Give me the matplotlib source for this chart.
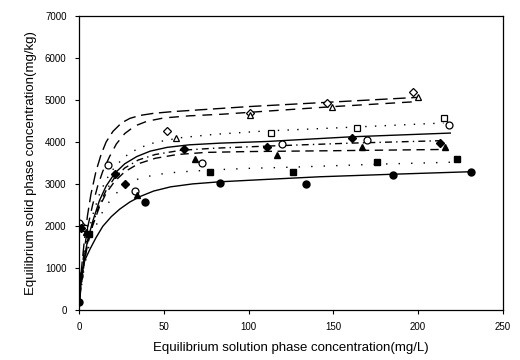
import numpy as np
import matplotlib
matplotlib.use("Agg")
import matplotlib.pyplot as plt

plt.rcParams['font.family'] = ['Liberation Sans', 'DejaVu Sans']

# measured points (x = mg/L, y = mg/kg)
od_x = [2, 51.7, 101, 146, 197]
od_y = [2000, 4270, 4690, 4930, 5190]
ot_x = [1, 57, 101, 149, 200]
ot_y = [1980, 4090, 4650, 4830, 5070]
os_x = [3, 113, 164, 215]
os_y = [1950, 4210, 4330, 4570]
oc_x = [0, 17, 33, 72.5, 120, 170, 218]
oc_y = [2070, 3450, 2820, 3500, 3950, 4050, 4400]
fd_x = [1, 21, 27, 62, 111, 161, 213]
fd_y = [1950, 3240, 2990, 3830, 3890, 4090, 3970]
ft_x = [4, 34, 68.5, 117, 167, 216]
ft_y = [1850, 2740, 3590, 3690, 3880, 3890]
fs_x = [6, 77, 126, 176, 223]
fs_y = [1800, 3290, 3290, 3520, 3590]
fc_x = [0, 0, 39, 83, 134, 185, 231]
fc_y = [190, 800, 2570, 3020, 3000, 3210, 3290]

# fitted curves
cd_x = [0, 1, 3, 5, 7, 10, 13, 16, 20, 25, 30, 36, 44, 55, 70, 100, 150, 200]
cd_y = [0, 800, 1600, 2250, 2750, 3300, 3700, 4000, 4250, 4450, 4560, 4630, 4680, 4720, 4760, 4840, 4950, 5060]
ct_x = [0, 1, 3, 5, 8, 11, 14, 18, 22, 27, 33, 40, 50, 65, 85, 110, 150, 200]
ct_y = [0, 700, 1400, 1950, 2500, 2950, 3300, 3650, 3950, 4200, 4380, 4490, 4570, 4620, 4660, 4730, 4840, 4960]
cs_x = [0, 1, 3, 5, 8, 12, 16, 21, 27, 35, 45, 60, 80, 110, 150, 215]
cs_y = [0, 600, 1250, 1750, 2250, 2750, 3100, 3400, 3650, 3850, 3990, 4100, 4180, 4260, 4330, 4450]
cc_x = [0, 1, 3, 5, 8, 12, 16, 21, 27, 34, 42, 52, 65, 83, 111, 160, 219]
cc_y = [0, 600, 1200, 1650, 2100, 2600, 2950, 3250, 3480, 3650, 3780, 3870, 3930, 3970, 4010, 4120, 4210]
cfd_x = [0, 1, 3, 5, 8, 12, 16, 21, 27, 35, 45, 60, 80, 111, 160, 215]
cfd_y = [0, 550, 1150, 1600, 2050, 2500, 2850, 3150, 3380, 3570, 3700, 3800, 3850, 3900, 3970, 4030]
cft_x = [0, 1, 3, 5, 8, 12, 16, 21, 27, 35, 45, 58, 75, 100, 150, 215]
cft_y = [0, 500, 1100, 1550, 2000, 2450, 2780, 3060, 3290, 3480, 3610, 3700, 3750, 3770, 3790, 3820]
cfs_x = [0, 1, 3, 5, 8, 12, 16, 21, 27, 35, 45, 58, 77, 100, 127, 177, 223]
cfs_y = [0, 450, 1000, 1400, 1800, 2200, 2480, 2740, 2960, 3120, 3220, 3280, 3330, 3370, 3400, 3470, 3520]
cfc_x = [0, 1, 3, 6.5, 10, 14, 19, 24, 30, 36, 44, 54, 67, 83, 107, 142, 185, 231]
cfc_y = [0, 700, 1150, 1450, 1720, 1990, 2220, 2400, 2570, 2700, 2830, 2930, 3000, 3050, 3100, 3170, 3230, 3290]

fig = plt.figure(figsize=(5.2, 3.6), dpi=100)
ax = fig.add_axes([0.152, 0.139, 0.815, 0.817])

lw = 1.0
ax.plot(cd_x, cd_y, color='black', lw=lw, ls=(0, (9, 4)))
ax.plot(ct_x, ct_y, color='black', lw=lw, ls=(0, (7, 5)))
ax.plot(cs_x, cs_y, color='black', lw=lw, ls=(0, (1, 6)))
ax.plot(cc_x, cc_y, color='black', lw=lw, ls='-')
ax.plot(cfd_x, cfd_y, color='black', lw=lw, ls=(0, (5, 3, 1, 3)))
ax.plot(cft_x, cft_y, color='black', lw=lw, ls=(0, (6, 4)))
ax.plot(cfs_x, cfs_y, color='black', lw=lw, ls=(0, (1, 8)))
ax.plot(cfc_x, cfc_y, color='black', lw=lw, ls='-')

ms = 5
ax.plot(od_x, od_y, 'D', ms=ms - 1, mfc='white', mec='black', mew=0.9, ls='')
ax.plot(ot_x, ot_y, '^', ms=ms, mfc='white', mec='black', mew=0.9, ls='')
ax.plot(os_x, os_y, 's', ms=ms, mfc='white', mec='black', mew=0.9, ls='')
ax.plot(oc_x, oc_y, 'o', ms=ms, mfc='white', mec='black', mew=0.9, ls='')
ax.plot(fd_x, fd_y, 'D', ms=ms - 1, color='black', ls='')
ax.plot(ft_x, ft_y, '^', ms=ms, color='black', ls='')
ax.plot(fs_x, fs_y, 's', ms=ms, color='black', ls='')
ax.plot(fc_x, fc_y, 'o', ms=ms, color='black', ls='')

ax.set_xlim(0, 250)
ax.set_ylim(0, 7000)
ax.set_xticks(np.arange(0, 251, 50))
ax.set_yticks(np.arange(0, 7001, 1000))
ax.tick_params(direction='out', length=3, width=0.8, labelsize=7, pad=6)
for s in ax.spines.values():
    s.set_linewidth(0.9)

ax.set_xlabel('Equilibrium solution phase concentration(mg/L)', fontsize=9.5, labelpad=7)
ax.set_ylabel('Equilibrium solid phase concentration(mg/kg)', fontsize=9.5, labelpad=6)

fig.savefig('out.png', dpi=100)
